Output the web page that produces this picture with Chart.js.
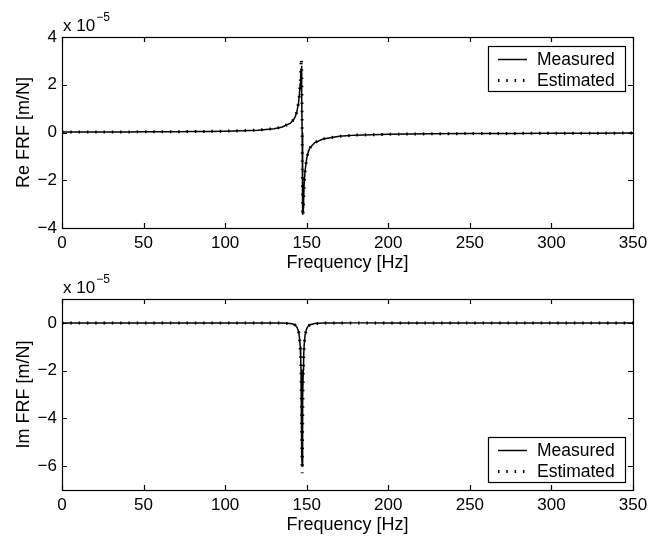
<!DOCTYPE html>
<html>
<head>
<meta charset="utf-8">
<script src="https://cdn.jsdelivr.net/npm/chart.js@4/dist/chart.umd.min.js"></script>
<style>
    html, body { margin: 0; padding: 0; background: #fff; overflow: hidden; }
    #wrap { position: relative; width: 665px; height: 536px; }
    canvas { position: absolute; left: 0; }
    #re { top: 0; }
    #im { top: 262px; }
</style>
</head>
<body>
<div id="wrap">
    <canvas id="re" width="665" height="274"></canvas>
    <canvas id="im" width="665" height="274"></canvas>
</div>
<script>
// frequency grid [Hz], denser around the resonance
var freq = [0, 10, 20, 30, 40, 50, 60, 70, 80, 90, 100, 110, 120, 130, 135, 140, 142, 143, 144,
    145, 145.5, 146, 146.3, 146.5, 146.75, 146.9, 147.05, 147.2, 147.35, 147.5, 147.65, 147.9,
    148.1, 148.4, 149, 150, 151, 152, 155, 160, 170, 180, 200, 225, 250, 275, 300, 325, 350];

// values in units of 1e-5 m/N
var reMeasured = [0.018, 0.019, 0.02, 0.022, 0.025, 0.028, 0.031, 0.035, 0.04, 0.047, 0.057, 0.072,
    0.099, 0.16, 0.23, 0.39, 0.54, 0.67, 0.88, 1.25, 1.58, 2.05, 2.45, 2.68, 2.8, 2.6, 1.7, 0,
    -1.8, -2.85, -3.45, -3.15, -2.85, -2.2, -1.6, -1.08, -0.8, -0.64, -0.42, -0.27, -0.16, -0.11,
    -0.075, -0.055, -0.045, -0.038, -0.032, -0.028, -0.025];
var reEstimated = [0.018, 0.019, 0.02, 0.022, 0.025, 0.028, 0.031, 0.035, 0.04, 0.047, 0.057, 0.072,
    0.099, 0.16, 0.23, 0.39, 0.54, 0.67, 0.88, 1.25, 1.58, 2.05, 2.5, 2.88, 3.1, 2.8, 1.8, 0,
    -1.9, -2.95, -3.5, -3.2, -2.9, -2.2, -1.6, -1.08, -0.8, -0.64, -0.42, -0.27, -0.16, -0.11,
    -0.075, -0.055, -0.045, -0.038, -0.032, -0.028, -0.025];
var imMeasured = [0, 0, 0, 0, 0, 0, 0, 0, 0, 0, 0, -0.001, -0.002, -0.005, -0.01, -0.03, -0.06,
    -0.1, -0.18, -0.36, -0.58, -0.98, -1.45, -1.95, -3.1, -4.2, -5.4, -6.0, -5.4, -4.2, -3.1,
    -1.95, -1.45, -0.98, -0.5, -0.24, -0.13, -0.08, -0.03, -0.01, -0.003, 0, 0, 0, 0, 0, 0, 0, 0];
var imEstimated = [0, 0, 0, 0, 0, 0, 0, 0, 0, 0, 0, -0.001, -0.002, -0.005, -0.01, -0.03, -0.06,
    -0.1, -0.18, -0.36, -0.58, -1.0, -1.5, -2.02, -3.25, -4.4, -5.65, -6.3, -5.65, -4.4, -3.25,
    -2.02, -1.5, -1.0, -0.5, -0.24, -0.13, -0.08, -0.03, -0.01, -0.003, 0, 0, 0, 0, 0, 0, 0, 0];

var xTicks = [0, 50, 100, 150, 200, 250, 300, 350];
var reTicks = [-4, -2, 0, 2, 4];
var imTicks = [-6, -4, -2, 0];
var legendLabels = ["Measured", "Estimated"];

var FONT = "'Liberation Sans', Arial, Helvetica, sans-serif";
Chart.defaults.font.family = FONT;
Chart.defaults.color = "#000";

function pts(ys) {
    return freq.map(function (f, i) { return { x: f, y: ys[i] }; });
}

// box, inward ticks, exponent label and legend
var framePlugin = {
    id: "frame",
    afterDraw: function (chart, args, opts) {
        var ctx = chart.ctx;
        var a = chart.chartArea;
        var x = chart.scales.x, y = chart.scales.y;
        ctx.save();
        ctx.strokeStyle = "#000";
        ctx.lineWidth = 1.2;
        ctx.strokeRect(Math.round(a.left) + 0.5, Math.round(a.top) + 0.5,
            Math.round(a.right - a.left), Math.round(a.bottom - a.top));

        var tl = 5;
        ctx.beginPath();
        x.ticks.forEach(function (t) {
            var px = Math.round(x.getPixelForValue(t.value)) + 0.5;
            ctx.moveTo(px, a.bottom); ctx.lineTo(px, a.bottom - tl);
            ctx.moveTo(px, a.top); ctx.lineTo(px, a.top + tl);
        });
        y.ticks.forEach(function (t) {
            var py = Math.round(y.getPixelForValue(t.value)) + 0.5;
            ctx.moveTo(a.left, py); ctx.lineTo(a.left + tl, py);
            ctx.moveTo(a.right, py); ctx.lineTo(a.right - tl, py);
        });
        ctx.stroke();

        // x 10^-5
        ctx.fillStyle = "#000";
        ctx.textBaseline = "alphabetic";
        ctx.textAlign = "left";
        ctx.font = "17px " + FONT;
        ctx.fillText("x 10", a.left + 1, a.top - 6);
        var w = ctx.measureText("x 10").width;
        ctx.font = "12px " + FONT;
        ctx.fillText("\u22125", a.left + 2 + w, a.top - 16);

        // legend
        var bw = 137, bh = 45;
        var bx = Math.round(a.right - 8 - bw);
        var by = opts.legend === "top" ? Math.round(a.top + 9) : Math.round(a.bottom - 8 - bh);
        ctx.fillStyle = "#fff";
        ctx.fillRect(bx, by, bw, bh);
        ctx.lineWidth = 1.2;
        ctx.strokeRect(bx + 0.5, by + 0.5, bw, bh);

        ctx.beginPath();
        ctx.lineWidth = 1.5;
        ctx.moveTo(bx + 10, by + 13.5);
        ctx.lineTo(bx + 39, by + 13.5);
        ctx.stroke();

        ctx.beginPath();
        ctx.lineWidth = 3;
        ctx.setLineDash([1.5, 6.8]);
        ctx.moveTo(bx + 10, by + 34.5);
        ctx.lineTo(bx + 39, by + 34.5);
        ctx.stroke();
        ctx.setLineDash([]);

        ctx.fillStyle = "#000";
        ctx.font = "17.5px " + FONT;
        ctx.textBaseline = "middle";
        ctx.fillText(legendLabels[0], bx + 49, by + 14);
        ctx.fillText(legendLabels[1], bx + 49, by + 35);
        ctx.restore();
    },
};

function makeChart(id, measured, estimated, yMin, yMax, yTicks, yTitle, legendPos) {
    var ctx = document.getElementById(id).getContext("2d");
    return new Chart(ctx, {
        type: "line",
        data: {
            datasets: [
                {
                    label: legendLabels[0],
                    data: pts(measured),
                    borderColor: "#000",
                    borderWidth: 1.5,
                    pointRadius: 0,
                    tension: 0,
                },
                {
                    label: legendLabels[1],
                    data: pts(estimated),
                    borderColor: "#000",
                    borderWidth: 3,
                    borderDash: [1.5, 6.8],
                    borderCapStyle: "butt",
                    pointRadius: 0,
                    tension: 0,
                },
            ],
        },
        options: {
            responsive: false,
            animation: false,
            devicePixelRatio: 1,
            layout: { padding: { top: 37, right: 32, bottom: 0, left: 13 } },
            plugins: {
                legend: { display: false },
                tooltip: { enabled: false },
                frame: { legend: legendPos },
            },
            scales: {
                x: {
                    type: "linear",
                    min: 0,
                    max: 350,
                    grid: { display: false, drawTicks: false },
                    border: { display: false },
                    afterBuildTicks: function (s) { s.ticks = xTicks.map(function (v) { return { value: v }; }); },
                    afterFit: function (s) { s.height = 46; },
                    ticks: { font: { size: 17 }, padding: 5, maxRotation: 0 },
                    title: { display: true, text: "Frequency [Hz]", font: { size: 18 }, padding: 0 },
                },
                y: {
                    min: yMin,
                    max: yMax,
                    grid: { display: false, drawTicks: false },
                    border: { display: false },
                    afterBuildTicks: function (s) { s.ticks = yTicks.map(function (v) { return { value: v }; }); },
                    afterFit: function (s) { s.width = 49; },
                    ticks: {
                        font: { size: 17 },
                        padding: 5,
                        callback: function (v) { return String(v).replace("-", "\u2212"); },
                    },
                    title: { display: true, text: yTitle, font: { size: 18 }, padding: 0 },
                },
            },
        },
        plugins: [framePlugin],
    });
}

makeChart("re", reMeasured, reEstimated, -4, 4, reTicks, "Re FRF [m/N]", "top");
makeChart("im", imMeasured, imEstimated, -7, 1, imTicks, "Im FRF [m/N]", "bottom");
</script>
</body>
</html>
